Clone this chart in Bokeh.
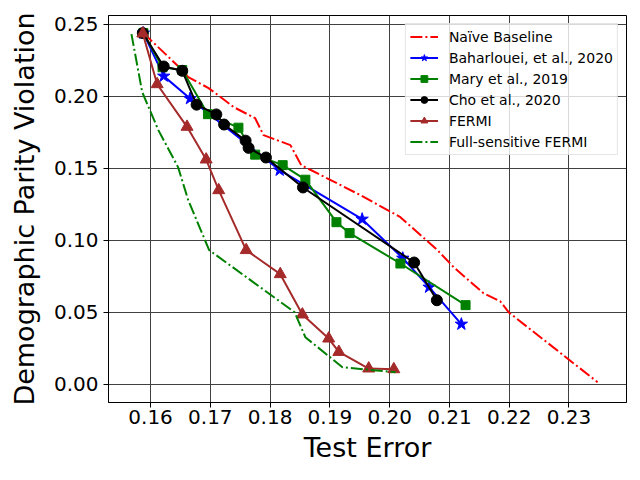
from bokeh.plotting import figure
from bokeh.models import Legend, LegendItem, FixedTicker, NumeralTickFormatter, Range1d
from bokeh.embed import file_html
from bokeh.resources import INLINE

# ---- data ----
naive_x = [0.1588, 0.1653, 0.1663, 0.1697, 0.1713, 0.1739, 0.1775, 0.1789, 0.1834, 0.1852,
           0.1951, 0.2018, 0.2080, 0.2107, 0.2157, 0.2185, 0.2199, 0.2348]
naive_y = [0.2438, 0.2181, 0.2132, 0.2056, 0.2007, 0.1924, 0.1847, 0.1729, 0.1660, 0.1521,
           0.1313, 0.1160, 0.0931, 0.0813, 0.0632, 0.0576, 0.0500, 0.0014]

bah_x = [0.1588, 0.1622, 0.1666, 0.1816, 0.1954, 0.2022, 0.2066, 0.2120]
bah_y = [0.2438, 0.2139, 0.1983, 0.1486, 0.1146, 0.0875, 0.0674, 0.0417]

mary_x = [0.1588, 0.1620, 0.1653, 0.1696, 0.1747, 0.1775, 0.1821, 0.1859, 0.1911, 0.1933, 0.2018, 0.2127]
mary_y = [0.2438, 0.2201, 0.2181, 0.1875, 0.1781, 0.1594, 0.1521, 0.1420, 0.1125, 0.1049, 0.0838, 0.0549]

cho_x = [0.1587, 0.1622, 0.1653, 0.1677, 0.1710, 0.1723, 0.1759, 0.1764, 0.1793, 0.1855, 0.2041, 0.2079]
cho_y = [0.2438, 0.2206, 0.2176, 0.1941, 0.1873, 0.1803, 0.1691, 0.1641, 0.1574, 0.1366, 0.0845, 0.0583]

fermi_x = [0.1587, 0.1611, 0.1661, 0.1693, 0.1714, 0.1760, 0.1817, 0.1854, 0.1898, 0.1915, 0.1965, 0.2007]
fermi_y = [0.2435, 0.2083, 0.1787, 0.1560, 0.1347, 0.0931, 0.0764, 0.0484, 0.0317, 0.0224, 0.0109, 0.0104]

full_x = [0.1568, 0.1586, 0.1613, 0.1646, 0.1663, 0.1698, 0.1841, 0.1859, 0.1921, 0.2010]
full_y = [0.2431, 0.2028, 0.1764, 0.1507, 0.1278, 0.0931, 0.0500, 0.0326, 0.0118, 0.0083]

x_ticks = [0.16, 0.17, 0.18, 0.19, 0.20, 0.21, 0.22, 0.23]
y_ticks = [0.00, 0.05, 0.10, 0.15, 0.20, 0.25]

FONT = "DejaVu Sans"

p = figure(width=632, height=472, output_backend="svg", toolbar_location=None,
           x_range=Range1d(0.15296, 0.23963), y_range=Range1d(-0.0127, 0.256),
           min_border_left=108, min_border_right=6, min_border_top=15, min_border_bottom=70)

p.outline_line_color = "black"
p.outline_line_width = 1
p.outline_line_alpha = 1

for ax in (p.xaxis[0], p.yaxis[0]):
    ax.major_label_text_font = FONT
    ax.major_label_text_font_size = "20px"
    ax.major_label_text_color = "black"
    ax.axis_label_text_font = FONT
    ax.axis_label_text_font_size = "27px"
    ax.axis_label_text_font_style = "normal"
    ax.axis_label_text_color = "black"
    ax.axis_line_color = "black"
    ax.major_tick_line_color = "black"
    ax.major_tick_out = 5
    ax.major_tick_in = 0
    ax.minor_tick_line_color = None
    ax.formatter = NumeralTickFormatter(format="0.00")

p.xaxis[0].ticker = FixedTicker(ticks=x_ticks)
p.yaxis[0].ticker = FixedTicker(ticks=y_ticks)
p.xaxis[0].axis_label = "Test Error"
p.yaxis[0].axis_label = "Demographic Parity Violation"
p.xaxis[0].major_label_standoff = 2
p.xaxis[0].axis_label_standoff = 5
p.yaxis[0].major_label_standoff = 5
p.yaxis[0].axis_label_standoff = 11

p.xgrid.ticker = FixedTicker(ticks=x_ticks)
p.ygrid.ticker = FixedTicker(ticks=y_ticks)
for g in (p.xgrid[0], p.ygrid[0]):
    g.grid_line_color = "#404040"
    g.grid_line_width = 1
    g.grid_line_alpha = 1

DASHDOT = "12 3 2 3"
LW = 2

items = []

r1 = p.line(naive_x, naive_y, line_color="red", line_width=LW, line_dash=DASHDOT)
items.append(LegendItem(label="Naïve Baseline", renderers=[r1]))

r2 = p.line(bah_x, bah_y, line_color="blue", line_width=LW)
m2 = p.scatter(bah_x, bah_y, marker="star", size=13, fill_color="blue", line_color="blue")
items.append(LegendItem(label="Baharlouei, et al., 2020", renderers=[r2, m2]))

r3 = p.line(mary_x, mary_y, line_color="green", line_width=LW)
m3 = p.scatter(mary_x, mary_y, marker="square", size=9, fill_color="green", line_color="green")
items.append(LegendItem(label="Mary et al., 2019", renderers=[r3, m3]))

r4 = p.line(cho_x, cho_y, line_color="black", line_width=LW)
m4 = p.scatter(cho_x, cho_y, marker="circle", size=11, fill_color="black", line_color="black")
items.append(LegendItem(label="Cho et al., 2020", renderers=[r4, m4]))

r5 = p.line(fermi_x, fermi_y, line_color="brown", line_width=LW)
m5 = p.scatter(fermi_x, fermi_y, marker="triangle", size=12, fill_color="brown", line_color="brown")
items.append(LegendItem(label="FERMI", renderers=[r5, m5]))

r6 = p.line(full_x, full_y, line_color="green", line_width=LW, line_dash=DASHDOT)
items.append(LegendItem(label="Full-sensitive FERMI", renderers=[r6]))

legend = Legend(items=items, location="top_right", margin=8, padding=4,
                spacing=4, label_height=17, glyph_height=17, glyph_width=28,
                label_standoff=11, label_text_font=FONT, label_text_font_size="14px",
                label_text_color="black", border_line_color="#cccccc", border_line_width=1,
                background_fill_color="white", background_fill_alpha=0.8)
p.add_layout(legend, "center")

open("out.html", "w").write(file_html(p, INLINE))
